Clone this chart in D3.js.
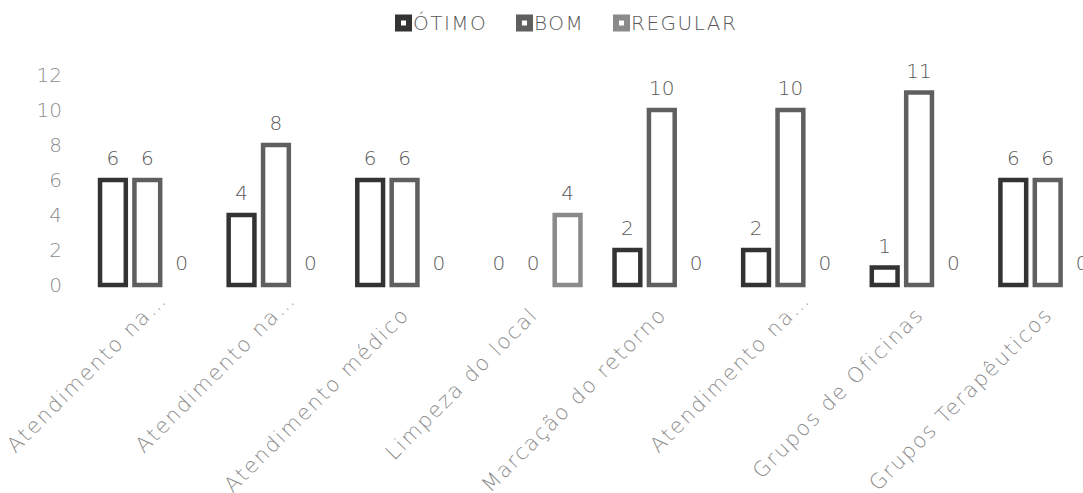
<!DOCTYPE html>
<html>
<head>
<meta charset="utf-8">
<script src="https://d3js.org/d3.v7.min.js"></script>
<style>
  body { margin: 0; background: #fff; }
  svg text { font-family: "DejaVu Sans", sans-serif; font-weight: 200; }
</style>
</head>
<body>
<script>
// dados do gráfico
var categorias = ["Atendimento na…", "Atendimento na…", "Atendimento médico", "Limpeza do local",
                  "Marcação do retorno", "Atendimento na…", "Grupos de Oficinas", "Grupos Terapêuticos"];
var series = ["ÓTIMO", "BOM", "REGULAR"];
var otimo   = [6, 4, 6, 0, 2, 2, 1, 6];
var bom     = [6, 8, 6, 0, 10, 10, 11, 6];
var regular = [0, 0, 0, 4, 0, 0, 0, 0];
var yTicks  = [0, 2, 4, 6, 8, 10, 12];
var cores   = ["#333333", "#5f5f5f", "#8a8a8a"];

var width = 1083, height = 493;
var valores = [otimo, bom, regular];

var svg = d3.select("body").append("svg")
    .attr("width", width)
    .attr("height", height);

// escalas
var x0 = d3.scaleBand()
    .domain(d3.range(categorias.length))
    .range([83, 1112])
    .paddingInner(0.23)
    .paddingOuter(0.115);

var x1 = d3.scaleBand()
    .domain(series)
    .range([0, x0.bandwidth()])
    .paddingInner(0.12);

var y = d3.scaleLinear()
    .domain([0, 12])
    .range([285, 75]);

// eixo Y (só rótulos)
var yAxis = svg.append("g")
    .attr("transform", "translate(70,0)")
    .call(d3.axisLeft(y).tickValues(yTicks).tickSize(0).tickPadding(8));
yAxis.select(".domain").remove();
yAxis.selectAll("text")
    .attr("font-size", 20)
    .attr("fill", "#8c8c8c")
    .style("font-family", "DejaVu Sans, sans-serif")
    .style("font-weight", 200);

// barras
var sw = 4.5;
var grupos = svg.append("g").selectAll("g")
    .data(categorias)
    .enter().append("g")
    .attr("transform", function(d, i) { return "translate(" + x0(i) + ",0)"; });

grupos.each(function(d, i) {
    var g = d3.select(this);
    series.forEach(function(s, k) {
        var v = valores[k][i];
        if (v > 0) {
            g.append("rect")
                .attr("x", x1(s) + sw / 2)
                .attr("y", y(v))
                .attr("width", x1.bandwidth() - sw)
                .attr("height", y(0) - y(v))
                .attr("fill", "#fff")
                .attr("stroke", cores[k])
                .attr("stroke-width", sw);
        }
        g.append("text")
            .attr("x", x1(s) + x1.bandwidth() / 2)
            .attr("y", y(v) - 15)
            .attr("text-anchor", "middle")
            .attr("font-size", 20)
            .attr("fill", "#595959")
            .text(v);
    });
});

// rótulos do eixo X (os truncados ficam um pouco mais para cima)
svg.append("g").selectAll("text")
    .data(categorias)
    .enter().append("text")
    .attr("transform", function(d, i) {
        var cx = x0(i) + x0.bandwidth() / 2 + 6, cy = 316;
        if (d.slice(-1) === "…") { cx += 15; cy -= 15; }
        return "translate(" + cx + "," + cy + ") rotate(-45)";
    })
    .attr("text-anchor", "end")
    .attr("font-size", 21)
    .attr("letter-spacing", 1.8)
    .attr("fill", "#8c8c8c")
    .text(function(d) { return d; });

// legenda
var legX = [395, 516, 613];
var leg = svg.append("g").selectAll("g")
    .data(series)
    .enter().append("g")
    .attr("transform", function(d, i) { return "translate(" + legX[i] + ",23)"; });
leg.append("rect")
    .attr("x", 3).attr("y", -5.5)
    .attr("width", 11).attr("height", 11)
    .attr("fill", "#fff")
    .attr("stroke", function(d, i) { return cores[i]; })
    .attr("stroke-width", 6);
leg.append("text")
    .attr("x", 18)
    .attr("dy", "0.36em")
    .attr("font-size", 20)
    .attr("letter-spacing", 1.5)
    .attr("fill", "#595959")
    .text(function(d) { return d; });
</script>
</body>
</html>
